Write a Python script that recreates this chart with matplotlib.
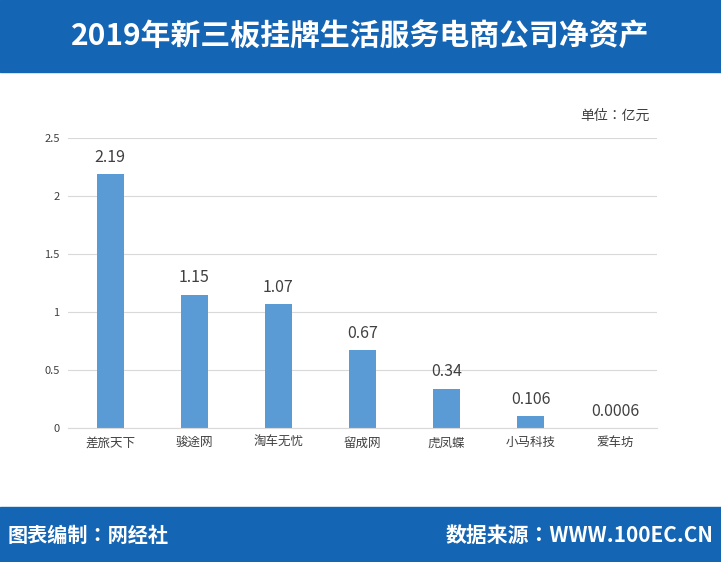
import matplotlib
matplotlib.use("Agg")
import matplotlib.pyplot as plt
from matplotlib.patches import Rectangle

plt.rcParams["font.family"] = ["Noto Sans CJK JP", "Noto Sans CJK SC", "Noto Sans CJK TC", "Noto Sans CJK KR", "DejaVu Sans"]

categories = ["差旅天下", "骏途网", "淘车无忧", "留成网", "虎凤蝶", "小马科技", "爱车坊"]
values = [2.19, 1.15, 1.07, 0.67, 0.34, 0.106, 0.0006]
labels = ["2.19", "1.15", "1.07", "0.67", "0.34", "0.106", "0.0006"]
yticks = [0, 0.5, 1, 1.5, 2, 2.5]
ytick_labels = ["0", "0.5", "1", "1.5", "2", "2.5"]

W, H = 721, 562
fig = plt.figure(figsize=(W/100, H/100), dpi=100)
blue = "#1465b3"
fig.patches.append(Rectangle((0, 1-72/H), 1, 72/H, transform=fig.transFigure, color=blue, zorder=0))
fig.patches.append(Rectangle((0, 0), 1, 55/H, transform=fig.transFigure, color=blue, zorder=0))
fig.text(0.5, 1-37/H, "2019年新三板挂牌生活服务电商公司净资产", color="white", fontsize=21.5, fontweight="bold", ha="center", va="center")
fig.text(8/W, 27/H, "图表编制：网经社", color="white", fontsize=14.5, fontweight="bold", ha="left", va="center")
fig.text(713/W, 27/H, "数据来源：WWW.100EC.CN", color="white", fontsize=15, fontweight="bold", ha="right", va="center")
fig.text(650/W, 1-116/H, "单位：亿元", color="#404040", fontsize=10, ha="right", va="center")

ax = fig.add_axes([68/W, 1-428/H, (657-68)/W, (428-138)/H])
x = range(len(categories))
ax.bar(x, values, width=0.32, color="#5b9bd5")
for i, (v, l) in enumerate(zip(values, labels)):
    ax.text(i, v + 0.07, l, ha="center", va="bottom", fontsize=11.5, color="#404040")
ax.set_ylim(0, 2.5)
ax.set_xlim(-0.5, len(categories)-0.5)
ax.set_yticks(yticks)
ax.set_yticklabels(ytick_labels)
ax.set_xticks(list(x))
ax.set_xticklabels(categories)
ax.tick_params(axis="y", length=0, labelsize=8, colors="#404040", pad=6)
ax.tick_params(axis="x", length=0, labelsize=9, colors="#404040", pad=6)
ax.grid(axis="y", color="#d9d9d9", linewidth=0.8)
ax.set_axisbelow(True)
for s in ["top", "right", "left"]:
    ax.spines[s].set_visible(False)
ax.spines["bottom"].set_color("#d9d9d9")
fig.savefig("out.png", dpi=100)
